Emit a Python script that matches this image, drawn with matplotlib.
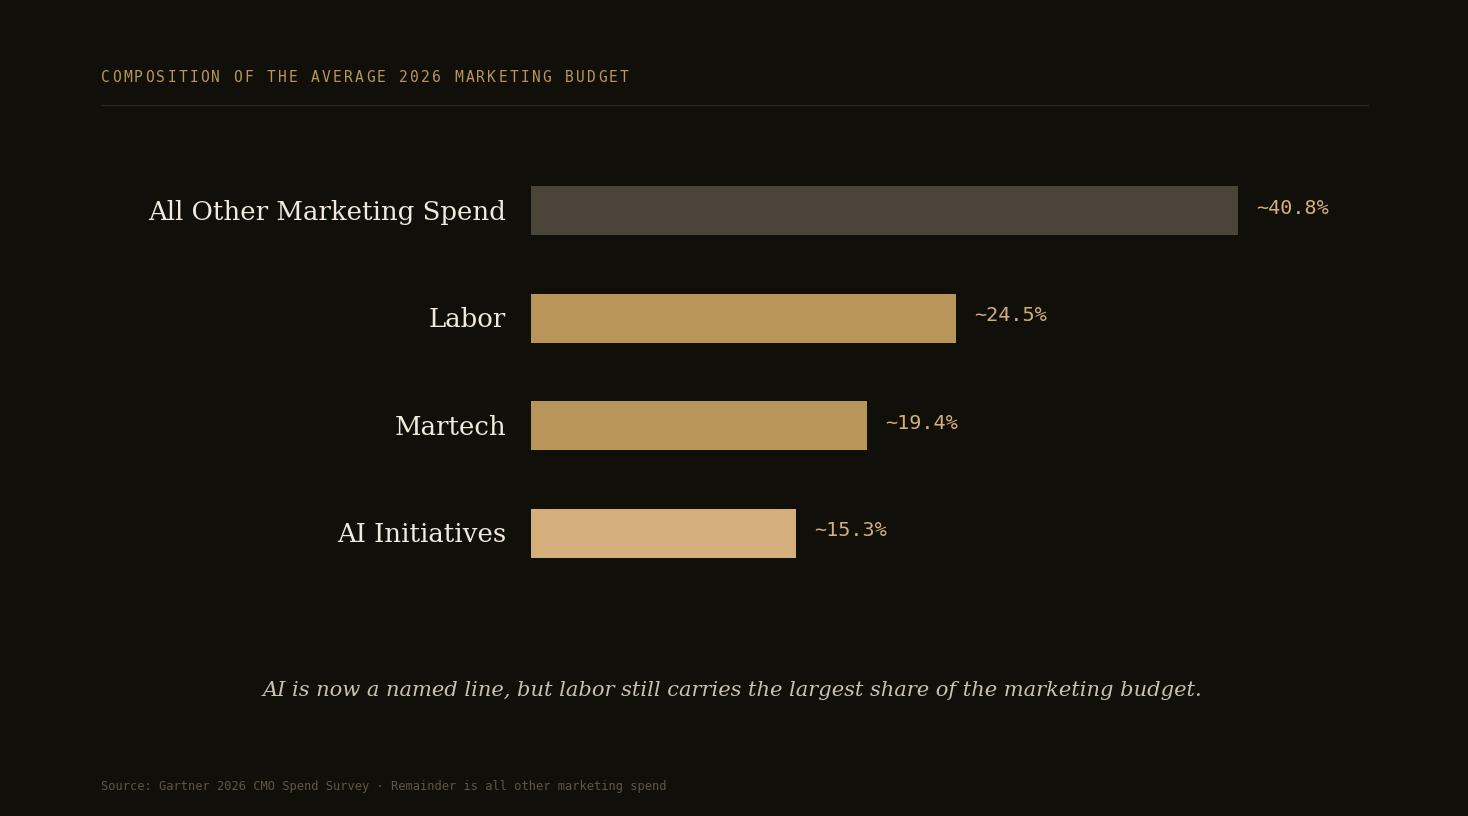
import matplotlib
matplotlib.use("Agg")
import matplotlib.pyplot as plt

categories = ["All Other Marketing Spend", "Labor", "Martech", "AI Initiatives"]
values = [40.8, 24.5, 19.4, 15.3]
value_labels = ["~40.8%", "~24.5%", "~19.4%", "~15.3%"]
bar_colors = ["#4a4439", "#b8965a", "#b8965a", "#d4ae7b"]

title = "COMPOSITION OF THE AVERAGE 2026 MARKETING BUDGET"
caption = "AI is now a named line, but labor still carries the largest share of the marketing budget."
source = "Source: Gartner 2026 CMO Spend Survey \u00b7 Remainder is all other marketing spend"

BG = "#100f0a"
W, H = 1468, 816
fig = plt.figure(figsize=(W / 100, H / 100), dpi=100, facecolor=BG)

def fx(px):
    return px / W

def fy(py):
    return 1 - py / H

# axes placement in pixels
ax_left, ax_right = 531, 1368
ax_top, ax_bottom = 156.75, 586.75
ax = fig.add_axes([fx(ax_left), fy(ax_bottom), fx(ax_right - ax_left), (ax_bottom - ax_top) / H])
ax.set_facecolor(BG)
px_per_unit = (1238 - 531) / 40.8
ax.set_xlim(0, (ax_right - ax_left) / px_per_unit)
ax.set_ylim(len(categories) - 0.5, -0.5)
ypos = list(range(len(categories)))
ax.barh(ypos, values, height=49 / 107.5, color=bar_colors, left=0)
for s in ax.spines.values():
    s.set_visible(False)
ax.set_xticks([])
ax.set_yticks([])

for i, (cat, v, lab) in enumerate(zip(categories, values, value_labels)):
    ax.annotate(cat, xy=(0, i), xytext=(-18, -6.6), textcoords="offset points",
                ha="right", va="baseline", fontsize=18.7, family="DejaVu Serif",
                color="#f0e9dc")
    ax.annotate(lab, xy=(v, i), xytext=(13.2, -2.2), textcoords="offset points",
                ha="left", va="baseline", fontsize=14.5, family="DejaVu Sans Mono",
                color="#d4ae7b")

# title with letter spacing
adv = 11.04
for k, ch in enumerate(title):
    fig.text(fx(101 + k * adv), fy(77), ch, ha="left", va="center",
             fontsize=10.5, family="DejaVu Sans Mono", color="#b8965a")

# divider line
fig.add_artist(plt.Line2D([fx(101), fx(1368)], [fy(104.5), fy(104.5)],
                          color="#2a2820", linewidth=1.0))

fig.text(fx(732.5), fy(690.5), caption, ha="center", va="center", fontsize=15.13,
         family="DejaVu Serif", style="italic", color="#c9c1b1")

fig.text(fx(101), fy(786.5), source, ha="left", va="center", fontsize=8.65,
         family="DejaVu Sans Mono", color="#5e5646")

fig.savefig("out.png", dpi=100, facecolor=BG)
